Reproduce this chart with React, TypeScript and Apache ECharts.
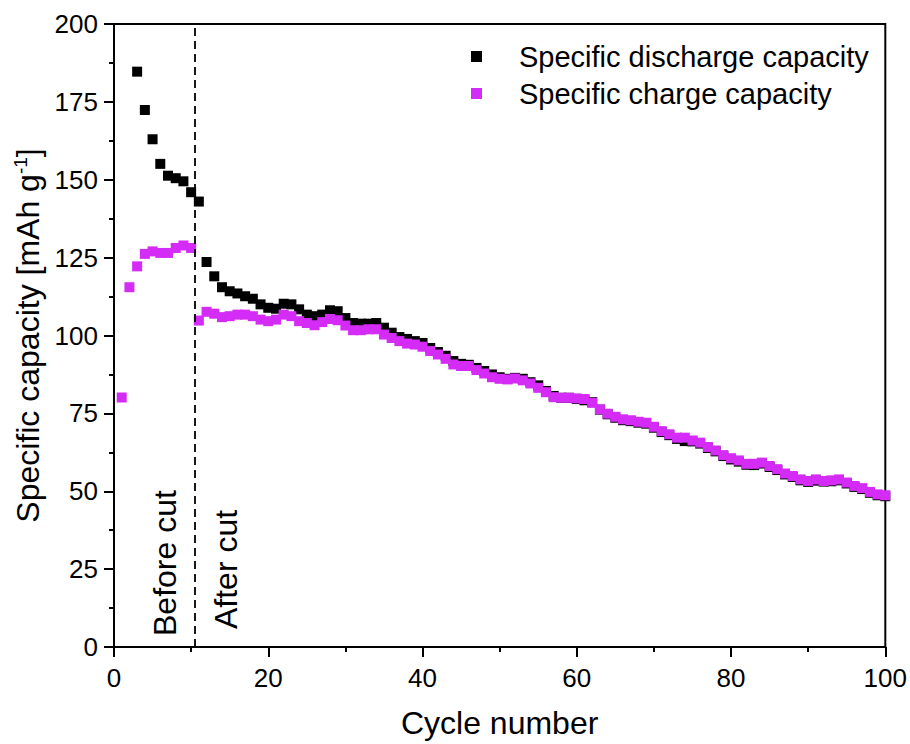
import React, { useEffect, useRef } from "react";
import * as echarts from "echarts";

const cycles: number[] = Array.from({ length: 100 }, (_, i) => i + 1);

const dischargeCapacity: (number | null)[] = [
  null, null, 184.7, 172.4, 163, 155.1, 151.3, 150.5, 149.5, 146,
  143, 123.6, 119, 115.5, 114.2, 113.5, 112.6, 111.8, 110, 108.9,
  108.6, 110.2, 110, 108.4, 106.7, 106.2, 106.7, 108.1, 107.8, 105.6,
  104, 103.8, 103.8, 104, 102.5, 100.9, 99.5, 98.9, 98.2, 97.6,
  96, 94.7, 93.5, 91.8, 90.9, 90.6, 89.6, 88.6, 87.5, 86.6,
  86.1, 86.4, 86.1, 85, 84, 82.2, 80.6, 80, 80, 79.6,
  79.2, 78.6, 76.2, 74.7, 73.6, 72.8, 72.5, 72, 71.7, 70.4,
  69, 68, 66.8, 66.1, 66, 65.3, 63.9, 62.8, 61.3, 60.2,
  59.5, 58.5, 58.4, 58.9, 57.8, 56.8, 55.4, 54.6, 53.5, 53,
  53.4, 53.1, 53.2, 53.5, 52.5, 51.4, 50.7, 49.5, 48.7, 48.4,
];

const chargeCapacity: number[] = [
  80.1, 115.5, 122.2, 126.2, 127, 126.5, 126.5, 128.1, 128.9, 128.1,
  104.8, 107.6, 107, 105.9, 106.2, 106.7, 106.7, 106.2, 105.1, 104.6,
  105.1, 106.7, 106.2, 104.6, 104, 103.3, 104.3, 105.3, 104.9, 103.2,
  101.7, 101.7, 102, 102, 100.3, 99.2, 98.2, 97.4, 97.1, 96.4,
  95, 93.9, 92.5, 90.7, 90.2, 90.2, 88.9, 87.8, 86.6, 86.1,
  85.9, 86.2, 85.6, 84.6, 83.2, 81.8, 80.2, 80, 80, 79.8,
  79.6, 78.4, 76.3, 74.9, 73.9, 73.1, 72.8, 72.3, 72, 70.7,
  69.3, 68.3, 67.2, 67.2, 66.3, 65.6, 64.2, 63.1, 61.6, 60.6,
  59.9, 58.8, 58.8, 59.2, 58.1, 57.1, 55.7, 54.9, 53.8, 53.3,
  53.8, 53.3, 53.5, 53.8, 52.8, 51.7, 51, 49.8, 49, 48.7,
];

const cutCycle = 10.5;
const seriesNames = ["Specific discharge capacity", "Specific charge capacity"];
const FONT = "Liberation Sans, Arial, sans-serif";

export default function App() {
  const ref = useRef<HTMLDivElement>(null);
  useEffect(() => {
    document.body.style.margin = "0";
    const chart = echarts.init(ref.current!, undefined, { renderer: "svg" });
    const discharge = cycles.map((c, i) => [c, dischargeCapacity[i]]).filter((d) => d[1] !== null);
    const charge = cycles.map((c, i) => [c, chargeCapacity[i]]);
    const tick = { show: true, length: 10, inside: false, lineStyle: { color: "#000", width: 2 } };
    const minor = { show: true, splitNumber: 2, length: 5, lineStyle: { color: "#000", width: 2 } };
    chart.setOption({
      animation: false,
      backgroundColor: "#fff",
      textStyle: { fontFamily: FONT },
      grid: {
        left: 114, right: 24, top: 24, bottom: 96,
        show: true, borderColor: "#000", borderWidth: 2, backgroundColor: "transparent",
      },
      legend: {
        orient: "vertical",
        left: 466, top: 37,
        itemWidth: 11, itemHeight: 11, itemGap: 8,
        icon: "rect",
        data: seriesNames,
        textStyle: { fontSize: 29, color: "#000", fontFamily: FONT, padding: [0, 0, 0, 32] },
      },
      xAxis: {
        type: "value", min: 0, max: 100, interval: 20,
        name: "Cycle number", nameLocation: "middle", nameGap: 60,
        nameTextStyle: { fontSize: 32, color: "#000", fontFamily: FONT },
        axisLine: { lineStyle: { color: "#000", width: 2 } },
        axisTick: tick,
        minorTick: minor,
        axisLabel: { fontSize: 26, color: "#000", margin: 18, fontFamily: FONT },
        splitLine: { show: false },
      },
      yAxis: {
        type: "value", min: 0, max: 200, interval: 25,
        name: "Specific capacity [mAh g{sup|-1}]", nameLocation: "middle", nameGap: 70,
        nameTextStyle: {
          fontSize: 32, color: "#000", fontFamily: FONT,
          rich: { sup: { fontSize: 19, color: "#000", fontFamily: FONT, padding: [0, 0, 14, 0] } },
        },
        axisLine: { lineStyle: { color: "#000", width: 2 } },
        axisTick: tick,
        minorTick: minor,
        axisLabel: { fontSize: 26, color: "#000", margin: 16, fontFamily: FONT },
        splitLine: { show: false },
      },
      series: [
        {
          name: seriesNames[0], type: "scatter", symbol: "rect", symbolSize: 10,
          itemStyle: { color: "#000000", opacity: 1 }, data: discharge,
          markLine: {
            silent: true, symbol: ["none", "none"], label: { show: false },
            lineStyle: { color: "#000", type: [8, 5], width: 1.8 },
            data: [{ xAxis: cutCycle }],
          },
        },
        {
          name: seriesNames[1], type: "scatter", symbol: "rect", symbolSize: 10,
          itemStyle: { color: "#d42cf6", opacity: 1 }, data: charge,
        },
      ],
      graphic: [
        {
          type: "text", x: 165, y: 636, rotation: Math.PI / 2,
          style: { text: "Before cut", fontSize: 32, fill: "#000", fontFamily: FONT, textAlign: "left", textVerticalAlign: "middle" },
        },
        {
          type: "text", x: 226, y: 629, rotation: Math.PI / 2,
          style: { text: "After cut", fontSize: 32, fill: "#000", fontFamily: FONT, textAlign: "left", textVerticalAlign: "middle" },
        },
      ],
    });
    return () => chart.dispose();
  }, []);
  return <div ref={ref} style={{ width: 910, height: 744 }} />;
}
